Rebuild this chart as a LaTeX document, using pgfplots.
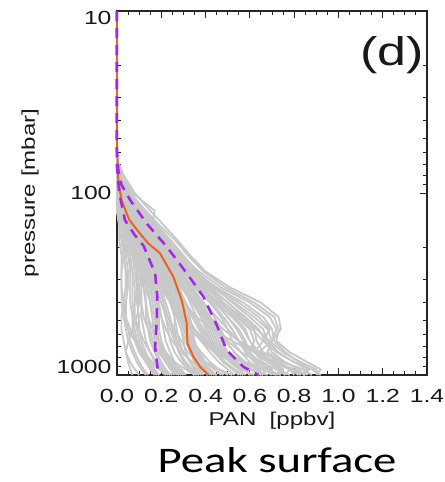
\documentclass[border=0pt]{standalone}
\usepackage{pgfplots}
\pgfplotsset{compat=1.18}
\usepackage{pgfplotstable}
\usepackage{fontspec}
\setmainfont{Liberation Sans}
\newfontfamily\idl[FakeStretch=1.3]{Liberation Sans}
\newfontfamily\peakfont[FakeStretch=1.3]{Carlito}
\definecolor{grayline}{RGB}{200,200,200}
\definecolor{medorange}{RGB}{235,100,30}
\definecolor{pctpurple}{RGB}{160,40,230}

% one row per gray profile: PAN [ppbv] at the pressures listed in row p
\pgfplotstableread{
name c1 c2 c3 c4 c5 c6 c7 c8 c9 c10 c11 c12 c13 c14 c15 c16 c17 c18 c19
p 10 50 65 80 100 125 150 180 220 270 330 400 480 560 650 750 850 930 1000
L1 0 0 0 0.03 0.08 0.15 0.21 0.27 0.33 0.40 0.51 0.65 0.73 0.74 0.70 0.64 0.68 0.74 0.72
L2 0 0 0 0.02 0.06 0.13 0.19 0.26 0.32 0.39 0.49 0.62 0.71 0.73 0.72 0.78 0.86 0.92 0.90
L3 0 0 0 0.01 0.05 0.11 0.17 0.23 0.29 0.37 0.47 0.60 0.69 0.72 0.70 0.68 0.75 0.84 0.86
L4 0 0 0 0.02 0.07 0.17 0.16 0.22 0.28 0.35 0.45 0.57 0.66 0.70 0.71 0.76 0.82 0.87 0.84
L5 0 0 0 0.01 0.04 0.10 0.16 0.22 0.28 0.35 0.44 0.55 0.64 0.69 0.66 0.62 0.68 0.74 0.72
L6 0 0 0 0.01 0.05 0.12 0.18 0.24 0.30 0.36 0.44 0.52 0.60 0.66 0.68 0.73 0.80 0.86 0.84
L7 0 0 0 0.00 0.03 0.08 0.14 0.20 0.27 0.34 0.42 0.50 0.57 0.62 0.63 0.66 0.74 0.78 0.76
L8 0 0 0 0.01 0.04 0.09 0.15 0.21 0.27 0.33 0.40 0.47 0.53 0.58 0.60 0.63 0.70 0.75 0.73
L9 0 0 0 0.00 0.03 0.08 0.13 0.19 0.25 0.32 0.39 0.45 0.50 0.54 0.57 0.62 0.66 0.70 0.69
L10 0 0 0 0.01 0.05 0.11 0.17 0.22 0.28 0.34 0.41 0.48 0.55 0.61 0.66 0.72 0.80 0.88 0.92
L11 0 0 0 0.00 0.02 0.07 0.12 0.18 0.24 0.30 0.36 0.42 0.47 0.50 0.52 0.56 0.60 0.64 0.66
L12 0 0 0 0.01 0.03 0.07 0.11 0.16 0.22 0.28 0.34 0.39 0.44 0.47 0.49 0.53 0.57 0.61 0.64
L13 0 0 0 0.00 0.02 0.06 0.10 0.15 0.21 0.27 0.33 0.38 0.42 0.45 0.47 0.50 0.54 0.58 0.60
L14 0 0 0 0.00 0.02 0.05 0.09 0.14 0.20 0.26 0.31 0.36 0.40 0.43 0.45 0.48 0.52 0.56 0.62
L15 0 0 0 0.00 0.01 0.05 0.09 0.13 0.19 0.24 0.29 0.34 0.38 0.40 0.42 0.45 0.49 0.53 0.56
L16 0 0 0 0.00 0.02 0.06 0.10 0.15 0.21 0.26 0.30 0.33 0.36 0.39 0.42 0.46 0.51 0.57 0.60
L17 0 0 0 0.00 0.01 0.04 0.08 0.12 0.18 0.23 0.27 0.30 0.32 0.33 0.34 0.36 0.39 0.42 0.45
L18 0 0 0 0.00 0.01 0.04 0.07 0.11 0.17 0.22 0.26 0.29 0.31 0.32 0.33 0.35 0.37 0.40 0.42
L19 0 0 0 0.00 0.02 0.05 0.09 0.13 0.19 0.24 0.28 0.31 0.33 0.34 0.35 0.37 0.40 0.44 0.48
L20 0 0 0 0.00 0.01 0.03 0.07 0.10 0.16 0.21 0.25 0.28 0.30 0.31 0.32 0.34 0.36 0.39 0.41
L21 0 0 0 0.00 0.01 0.04 0.08 0.12 0.17 0.21 0.24 0.26 0.28 0.30 0.32 0.35 0.38 0.41 0.44
L22 0 0 0 0.00 0.02 0.05 0.08 0.12 0.16 0.20 0.23 0.25 0.27 0.29 0.31 0.33 0.35 0.37 0.39
L23 0 0 0 0.00 0.01 0.03 0.06 0.10 0.15 0.19 0.22 0.25 0.28 0.31 0.34 0.38 0.42 0.46 0.50
L24 0 0 0 0.00 0.01 0.04 0.07 0.11 0.15 0.18 0.21 0.24 0.26 0.27 0.28 0.30 0.33 0.36 0.38
L25 0 0 0 0.00 0.01 0.03 0.06 0.09 0.13 0.16 0.19 0.21 0.22 0.23 0.24 0.26 0.29 0.32 0.35
L26 0 0 0 0.00 0.01 0.03 0.05 0.08 0.12 0.15 0.17 0.19 0.20 0.21 0.22 0.24 0.26 0.29 0.31
L27 0 0 0 0.00 0.00 0.02 0.05 0.08 0.11 0.14 0.16 0.18 0.19 0.19 0.20 0.22 0.25 0.28 0.30
L28 0 0 0 0.00 0.01 0.02 0.04 0.07 0.10 0.13 0.15 0.16 0.17 0.18 0.19 0.21 0.23 0.26 0.28
L29 0 0 0 0.00 0.00 0.02 0.04 0.06 0.09 0.12 0.14 0.15 0.16 0.16 0.17 0.19 0.22 0.24 0.26
L30 0 0 0 0.00 0.01 0.03 0.05 0.07 0.10 0.12 0.13 0.13 0.14 0.15 0.16 0.18 0.20 0.22 0.24
L31 0 0 0 0.00 0.00 0.02 0.04 0.06 0.08 0.10 0.11 0.11 0.11 0.12 0.13 0.15 0.17 0.20 0.22
L32 0 0 0 0.00 0.00 0.01 0.03 0.05 0.07 0.08 0.09 0.09 0.10 0.10 0.11 0.13 0.15 0.17 0.19
L33 0 0 0 0.00 0.00 0.01 0.02 0.04 0.05 0.06 0.06 0.06 0.07 0.08 0.09 0.11 0.13 0.15 0.17
L34 0 0 0 0.00 0.00 0.01 0.02 0.03 0.04 0.05 0.05 0.04 0.04 0.05 0.06 0.08 0.10 0.12 0.14
L35 0 0 0 0.00 0.00 0.00 0.01 0.02 0.03 0.04 0.04 0.03 0.02 0.02 0.03 0.04 0.06 0.08 0.10
L36 0 0 0 0.00 0.00 0.01 0.03 0.05 0.07 0.09 0.10 0.10 0.09 0.07 0.05 0.04 0.05 0.06 0.07
L37 0 0 0 0.00 0.01 0.03 0.06 0.10 0.15 0.20 0.25 0.30 0.36 0.43 0.52 0.62 0.72 0.80 0.85
L38 0 0 0 0.00 0.01 0.04 0.08 0.12 0.18 0.24 0.30 0.36 0.42 0.48 0.55 0.65 0.75 0.84 0.88
L39 0 0 0 0.00 0.01 0.03 0.06 0.09 0.13 0.17 0.21 0.25 0.29 0.34 0.40 0.48 0.58 0.68 0.74
L40 0 0 0 0.00 0.00 0.02 0.05 0.08 0.12 0.16 0.20 0.24 0.28 0.33 0.38 0.44 0.52 0.60 0.66
L41 0 0 0 0.00 0.02 0.06 0.11 0.17 0.23 0.29 0.37 0.44 0.50 0.55 0.58 0.60 0.64 0.68 0.70
L42 0 0 0 0.01 0.04 0.10 0.16 0.21 0.26 0.31 0.37 0.43 0.48 0.52 0.55 0.58 0.62 0.66 0.67
L43 0 0 0 0.00 0.02 0.06 0.10 0.16 0.22 0.27 0.32 0.37 0.41 0.44 0.46 0.49 0.53 0.58 0.61
L44 0 0 0 0.00 0.01 0.05 0.09 0.14 0.19 0.23 0.27 0.31 0.34 0.37 0.40 0.44 0.48 0.52 0.55
L45 0 0 0 0.00 0.01 0.04 0.08 0.12 0.17 0.20 0.23 0.25 0.26 0.26 0.27 0.28 0.30 0.33 0.36
L46 0 0 0 0.00 0.01 0.03 0.06 0.10 0.14 0.17 0.20 0.22 0.24 0.25 0.26 0.28 0.31 0.34 0.37
L47 0 0 0 0.00 0.00 0.02 0.05 0.08 0.12 0.15 0.18 0.20 0.23 0.26 0.29 0.32 0.36 0.40 0.43
L48 0 0 0 0.00 0.01 0.03 0.06 0.09 0.13 0.17 0.21 0.24 0.27 0.29 0.30 0.31 0.33 0.35 0.37
L49 0 0 0 0.00 0.00 0.02 0.04 0.07 0.10 0.13 0.15 0.17 0.18 0.18 0.19 0.20 0.22 0.25 0.28
L50 0 0 0 0.00 0.00 0.01 0.03 0.05 0.08 0.10 0.12 0.13 0.13 0.14 0.15 0.17 0.19 0.21 0.23
L51 0 0 0 0.00 0.00 0.01 0.02 0.03 0.05 0.07 0.08 0.08 0.08 0.09 0.10 0.12 0.14 0.16 0.18
L52 0 0 0 0.00 0.00 0.00 0.01 0.02 0.03 0.04 0.04 0.03 0.03 0.04 0.05 0.07 0.09 0.11 0.13
L53 0 0 0 0.01 0.03 0.08 0.13 0.18 0.23 0.28 0.33 0.38 0.42 0.46 0.50 0.56 0.64 0.72 0.78
L54 0 0 0 0.00 0.02 0.05 0.09 0.13 0.18 0.22 0.26 0.29 0.32 0.35 0.39 0.45 0.53 0.61 0.68
L55 0 0 0 0.00 0.01 0.04 0.07 0.10 0.14 0.18 0.22 0.26 0.30 0.33 0.35 0.37 0.40 0.46 0.52
L56 0 0 0 0.01 0.04 0.09 0.14 0.20 0.26 0.33 0.41 0.50 0.58 0.64 0.67 0.70 0.76 0.82 0.85
L57 0 0 0 0.00 0.03 0.07 0.12 0.17 0.23 0.30 0.37 0.45 0.52 0.57 0.60 0.64 0.71 0.79 0.83
L58 0 0 0 0.00 0.02 0.06 0.11 0.16 0.22 0.28 0.35 0.42 0.48 0.52 0.55 0.59 0.65 0.72 0.76
L59 0 0 0 0.01 0.03 0.08 0.13 0.18 0.24 0.31 0.38 0.46 0.54 0.60 0.62 0.60 0.63 0.69 0.71
L60 0 0 0 0.00 0.02 0.05 0.09 0.14 0.20 0.25 0.30 0.35 0.39 0.42 0.44 0.47 0.51 0.55 0.58
L61 0 0 0 0.00 0.01 0.04 0.08 0.12 0.17 0.22 0.26 0.29 0.32 0.35 0.38 0.42 0.46 0.50 0.53
L62 0 0 0 0.00 0.01 0.03 0.07 0.11 0.16 0.20 0.24 0.27 0.29 0.31 0.33 0.36 0.40 0.44 0.47
L63 0 0 0 0.00 0.01 0.04 0.07 0.10 0.14 0.17 0.19 0.21 0.23 0.25 0.27 0.30 0.34 0.38 0.41
L64 0 0 0 0.00 0.00 0.02 0.04 0.06 0.09 0.11 0.12 0.13 0.14 0.16 0.18 0.21 0.24 0.27 0.30
L65 0 0 0 0.00 0.00 0.01 0.02 0.04 0.06 0.07 0.07 0.07 0.08 0.10 0.12 0.15 0.18 0.21 0.24
L66 0 0 0 0.00 0.00 0.01 0.02 0.03 0.03 0.02 0.02 0.02 0.03 0.05 0.08 0.11 0.15 0.19 0.22
L67 0 0 0 0.00 0.01 0.03 0.06 0.09 0.12 0.14 0.16 0.18 0.20 0.22 0.25 0.29 0.34 0.40 0.45
L68 0 0 0 0.00 0.01 0.03 0.06 0.10 0.15 0.19 0.23 0.27 0.31 0.35 0.40 0.47 0.56 0.65 0.72
L69 0 0 0 0.00 0.02 0.05 0.09 0.14 0.19 0.24 0.29 0.34 0.38 0.41 0.43 0.46 0.52 0.60 0.65
L70 0 0 0 0.01 0.04 0.09 0.15 0.21 0.27 0.34 0.43 0.53 0.62 0.68 0.70 0.68 0.72 0.78 0.80
L71 0 0 0 0.00 0.03 0.07 0.12 0.18 0.25 0.32 0.40 0.48 0.56 0.63 0.69 0.75 0.83 0.90 0.91
L72 0 0 0 0.00 0.02 0.05 0.10 0.15 0.21 0.27 0.33 0.39 0.45 0.50 0.55 0.62 0.70 0.78 0.82
L73 0 0 0 0.00 0.01 0.03 0.05 0.08 0.11 0.13 0.14 0.15 0.16 0.17 0.18 0.20 0.22 0.25 0.27
L74 0 0 0 0.00 0.00 0.01 0.03 0.05 0.07 0.09 0.10 0.11 0.12 0.14 0.16 0.19 0.22 0.26 0.29
L75 0 0 0 0.00 0.01 0.02 0.04 0.06 0.08 0.09 0.09 0.08 0.07 0.07 0.08 0.10 0.13 0.16 0.19
L76 0 0 0 0.00 0.01 0.04 0.07 0.11 0.16 0.21 0.26 0.31 0.35 0.38 0.41 0.44 0.48 0.53 0.57
L77 0 0 0 0.00 0.02 0.06 0.10 0.15 0.20 0.25 0.30 0.35 0.40 0.45 0.49 0.53 0.58 0.63 0.66
L78 0 0 0 0.00 0.01 0.02 0.04 0.07 0.10 0.14 0.17 0.20 0.22 0.24 0.26 0.28 0.31 0.34 0.36
L79 0 0 0 0.00 0.00 0.01 0.03 0.05 0.08 0.11 0.13 0.15 0.16 0.17 0.19 0.22 0.26 0.31 0.35
L80 0 0 0 0.00 0.00 0.00 0.01 0.01 0.02 0.02 0.02 0.03 0.04 0.06 0.09 0.12 0.16 0.20 0.25
}\grayraw
\pgfplotstabletranspose[colnames from=name]\graydata\grayraw

\pgfplotstableread{
x p
0 10
0 55
0.006 85
0.02 109
0.055 140
0.10 165
0.141 189
0.194 214
0.254 288
0.292 387
0.315 520
0.318 670
0.345 793
0.375 900
0.413 1000
}\median

\pgfplotstableread{
x p
0 10
0 72
0.01 100
0.036 141
0.08 170
0.12 195
0.172 276
0.182 371
0.179 520
0.172 699
0.187 1000
}\lowpct

\pgfplotstableread{
x p
0 10
0 60
0.006 75
0.02 90
0.059 109
0.134 147
0.224 197
0.315 276
0.39 371
0.45 530
0.495 729
0.57 900
0.638 1000
}\highpct

\begin{document}
\begin{tikzpicture}
\useasboundingbox (-117bp,-107bp) rectangle (328bp,375bp);
\begin{axis}[
  at={(0,0)}, anchor=south west,
  scale only axis, width=310bp, height=364bp,
  xmin=0, xmax=1.4, ymin=10, ymax=1000,
  ymode=log, y dir=reverse,
  xtick={0,0.2,0.4,0.6,0.8,1.0,1.2,1.4},
  xticklabels={0.0,0.2,0.4,0.6,0.8,1.0,1.2,1.4},
  minor x tick num=3,
  ytick={10,100,1000},
  yticklabels={\raisebox{-7bp}[\height][\depth]{10},100,\raisebox{8bp}[\height][\depth]{1000}},
  xtick pos=both, ytick pos=both,
  tick align=inside,
  major tick length=7bp, minor tick length=4bp,
  every tick/.style={black!85, line width=1bp},
  axis line style={black!85, line width=1.3bp},
  ticklabel style={font=\idl\fontsize{19bp}{22bp}\selectfont, black!90},
  xticklabel style={yshift=-11bp},
  yticklabel style={xshift=-2bp},
  clip=false,
]
\pgfplotsinvokeforeach{1,...,80}{
  \addplot[grayline, line width=1.8bp] table[x=L#1, y=p]{\graydata};
}
\addplot[medorange, line width=2bp] table[x=x, y=p]{\median};
\addplot[pctpurple, line width=2.5bp, dash pattern=on 10bp off 7bp] table[x=x, y=p]{\lowpct};
\addplot[pctpurple, line width=2.5bp, dash pattern=on 10bp off 7bp] table[x=x, y=p]{\highpct};
\end{axis}
\node[rotate=90, black!90, font=\idl\fontsize{18.5bp}{22bp}\selectfont] at (-87bp,182bp) {pressure [mbar]};
\node[black!90, font=\idl\fontsize{18.5bp}{22bp}\selectfont] at (155bp,-46bp) {PAN\ \ [ppbv]};
\node[black!90, font=\idl\fontsize{40bp}{44bp}\selectfont] at (275bp,320bp) {(d)};
\node[font=\peakfont\fontsize{36bp}{40bp}\selectfont, anchor=base] at (160bp,-97bp) {Peak surface};
\end{tikzpicture}
\end{document}
